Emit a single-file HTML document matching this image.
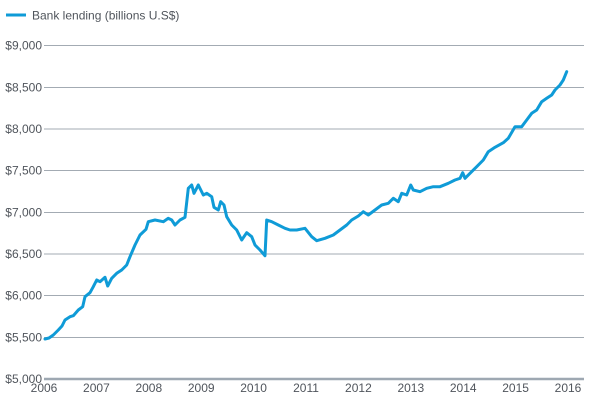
<!DOCTYPE html>
<html>
<head>
<meta charset="utf-8">
<style>
html,body{margin:0;padding:0;background:#fff;}
svg{display:block;}
text{font-family:"Liberation Sans",Arial,sans-serif;font-size:12px;fill:#50555c;}
</style>
</head>
<body>
<svg width="600" height="400" viewBox="0 0 600 400" xmlns="http://www.w3.org/2000/svg">
  <!-- legend -->
  <line x1="6" y1="15" x2="26" y2="15" stroke="#0f9bd7" stroke-width="3"/>
  <text x="32" y="19.5">Bank lending (billions U.S$)</text>

  <!-- gridlines -->
  <g stroke="#a3abb3" stroke-width="1">
    <line x1="44" y1="45.5" x2="584" y2="45.5"/>
    <line x1="44" y1="87.5" x2="584" y2="87.5"/>
    <line x1="44" y1="129" x2="584" y2="129"/>
    <line x1="44" y1="170.5" x2="584" y2="170.5"/>
    <line x1="44" y1="212.5" x2="584" y2="212.5"/>
    <line x1="44" y1="254" x2="584" y2="254"/>
    <line x1="44" y1="295.5" x2="584" y2="295.5"/>
    <line x1="44" y1="337.5" x2="584" y2="337.5"/>
  </g>
  <line x1="44" y1="379" x2="584" y2="379" stroke="#9ea8b2" stroke-width="2.5"/>

  <!-- y labels -->
  <g text-anchor="end">
    <text x="42" y="49.5">$9,000</text>
    <text x="42" y="91.5">$8,500</text>
    <text x="42" y="133">$8,000</text>
    <text x="42" y="174.5">$7,500</text>
    <text x="42" y="216.5">$7,000</text>
    <text x="42" y="258">$6,500</text>
    <text x="42" y="299.5">$6,000</text>
    <text x="42" y="341.5">$5,500</text>
    <text x="42" y="383">$5,000</text>
  </g>

  <!-- x labels -->
  <g text-anchor="middle">
    <text x="44" y="392">2006</text>
    <text x="96.4" y="392">2007</text>
    <text x="148.8" y="392">2008</text>
    <text x="201.2" y="392">2009</text>
    <text x="253.6" y="392">2010</text>
    <text x="306" y="392">2011</text>
    <text x="358.4" y="392">2012</text>
    <text x="410.8" y="392">2013</text>
    <text x="463.2" y="392">2014</text>
    <text x="515.6" y="392">2015</text>
    <text x="568" y="392">2016</text>
  </g>

  <!-- series -->
  <polyline fill="none" stroke="#0f9bd7" stroke-width="3" stroke-linejoin="round" stroke-linecap="round"
    points="45,339 49,338 53.3,335 58.3,330 62,326 65,320 70,316.7 73.3,315.7 78.3,310 82.7,306.7 85,296.7 90,292.7 93.3,286.7 96.7,280 100,281.7 105,277.3 107.7,286 111.7,278.3 116.7,273.3 121.7,270 126.7,265 130,256.7 135,245 140,235 146,229.3 148.3,221.7 155,220 163.3,221.7 168.3,218.3 171.7,220 175,225 180,220 185,217.3 188.3,188.3 191.7,185 194,193.3 198.3,185 203.3,195 206.7,193.3 211.7,196.7 214,207.3 218.3,210 220.7,201.7 224,205 226.7,216.7 231.7,225 236.7,230 241.7,240 246.7,232.7 251.7,236.7 255,245 260,250 265,255.7 266.7,220 271.7,221.7 278.3,225 285,228.3 290,230 296.7,230 305,228.3 311.7,236.7 316.7,240.7 325,238.3 333.3,235 340,230 346.7,225 351.7,220 358.3,216 363.3,211.7 368.3,215 375,210 381.7,205 388.3,203.3 393.3,198.3 398.3,201.7 401.7,193.3 406.7,195 410.7,185 413.3,190 420,191.7 426.7,188.3 433.3,186.7 440,186.7 448.3,183.3 455,180 460,178.3 462.7,172.7 465,178.3 470,173.3 476.7,166.7 483.3,160 488.3,151.7 495,147.3 503.3,142.7 508.3,138.3 515,126.7 521.7,126.7 526.7,120 531.7,113.3 536.7,110 541.7,101.7 546.7,98.3 551.7,95 555,90 560,85 563.3,80 566.7,71.7"/>
</svg>
</body>
</html>
